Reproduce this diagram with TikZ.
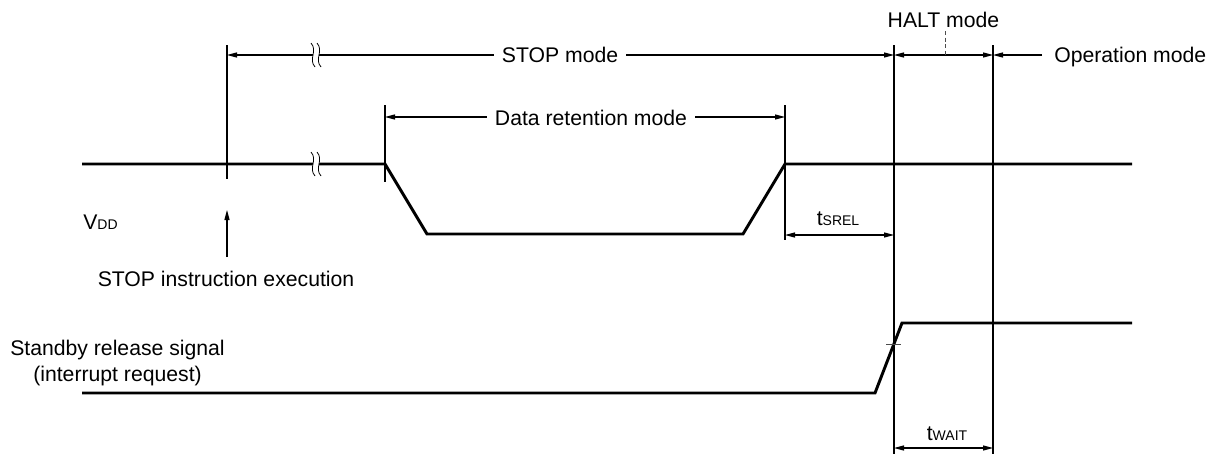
\documentclass[tikz,border=0pt]{standalone}
\usepackage{fontspec}
\setmainfont{Liberation Sans}
\usetikzlibrary{arrows.meta}
\newcommand{\lsub}[1]{{\fontsize{10.5}{12}\selectfont #1}}
\begin{document}
\begin{tikzpicture}[x=0.75pt,y=-0.75pt,
  >={Triangle[length=7.5pt,width=3.8pt]},
  signal/.style={line width=2.2pt,line join=miter,line cap=butt},
  guide/.style={line width=0.8pt},
  dimline/.style={guide,<->},
  label/.style={font=\fontsize{15.9}{19}\selectfont,inner sep=0pt,anchor=base},
  gaplabel/.style={label,fill=white,inner xsep=6pt,inner ysep=3pt},
  breakmark/.pic={
    \fill[white] (-5,-12) .. controls (2,-4) and (-8,4) .. (-1,12)
      -- (5,12) .. controls (-2,4) and (8,-4) .. (1,-12) -- cycle;
    \draw[line width=0.6pt] (-5,-12) .. controls (2,-4) and (-8,4) .. (-1,12);
    \draw[line width=0.6pt] (1,-12) .. controls (8,-4) and (-2,4) .. (5,12);
  }]
\useasboundingbox (0,0) rectangle (1217,454);

% ---- time markers ----
\coordinate (stopT) at (227,45);   \coordinate (stopB) at (227,179);
\coordinate (drL)   at (385,105);  \coordinate (drLb) at (385,182);
\coordinate (drR)   at (785,105);  \coordinate (drRb) at (785,240);
\coordinate (relT)  at (894,45);   \coordinate (relB) at (894,454);
\coordinate (opT)   at (993,45);   \coordinate (opB)  at (993,454);
\draw[guide] (stopT) -- (stopB);
\draw[guide] (drL) -- (drLb);
\draw[guide] (drR) -- (drRb);
\draw[guide] (relT) -- (relB);
\draw[guide] (opT) -- (opB);

% ---- VDD waveform ----
\coordinate (v0) at (82,164);
\coordinate (v1) at (385,164);
\coordinate (v2) at (427,234);
\coordinate (v3) at (743,234);
\coordinate (v4) at (785,164);
\coordinate (v5) at (1132,164);
\draw[signal] (v0) -- (v1) -- (v2) -- (v3) -- (v4) -- (v5);
\pic at (316,164) {breakmark};

% ---- standby release signal ----
\coordinate (s0) at (82,393);
\coordinate (s1) at (875,393);
\coordinate (s2) at (902,323);
\coordinate (s3) at (1132,323);
\draw[signal] (s0) -- (s1) -- (s2) -- (s3);
\coordinate (tkL) at (886,344);
\coordinate (tkR) at (901,344);
\draw[line width=0.6pt,black!70] (tkL) -- (tkR);

% ---- mode spans ----
\coordinate (m0) at (227,55);
\coordinate (m1) at (894,55);
\coordinate (m2) at (993,55);
\coordinate (m3) at (1042,55);
\draw[dimline] (m0) -- (m1);
\pic at (316,55) {breakmark};
\node[gaplabel] (stopmode) at (560,62.6) {STOP mode};
\draw[dimline] (m1) -- (m2);
\draw[guide,->] (m3) -- (m2);
\coordinate (haltT) at (945,31);
\coordinate (haltB) at (945,55);
\draw[line width=0.6pt,black!70,dash pattern=on 3pt off 2pt] (haltT) -- (haltB);
\node[label] (haltmode) at (943.5,27) {HALT mode};
\node[label,anchor=base west] (opmode) at (1054,62.6) {Operation mode};

\coordinate (d0) at (385,117);
\coordinate (d1) at (785,117);
\draw[dimline] (d0) -- (d1);
\node[gaplabel] (drmode) at (591,125) {Data retention mode};

% ---- timing intervals ----
\coordinate (r0) at (785,235);
\coordinate (r1) at (894,235);
\draw[dimline] (r0) -- (r1);
\node[label] (tsrel) at (838,225) {t\lsub{SREL}};

\coordinate (w0) at (894,448);
\coordinate (w1) at (993,448);
\draw[dimline] (w0) -- (w1);
\node[label] (twait) at (947,440) {t\lsub{WAIT}};

% ---- signal names ----
\node[label,anchor=base west] (vdd) at (83,229) {V\lsub{DD}};
\coordinate (exB) at (227,257);
\coordinate (exT) at (227,210);
\draw[guide,->] (exB) -- (exT);
\node[label] (stopexec) at (226,286) {STOP instruction execution};
\node[label,anchor=base west] (standby) at (10,355) {Standby release signal};
\node[label,anchor=base west] (intreq) at (33,381) {(interrupt request)};
\end{tikzpicture}
\end{document}
